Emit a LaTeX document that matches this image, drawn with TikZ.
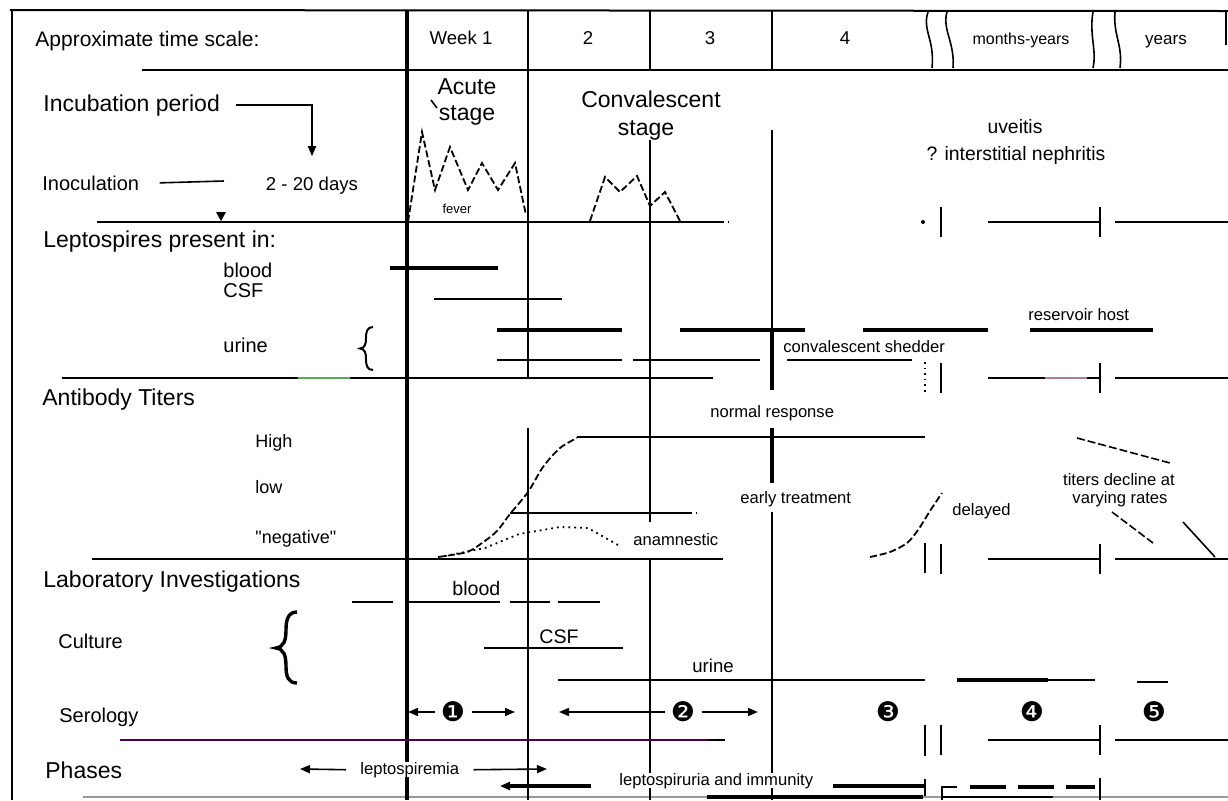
\documentclass[tikz,border=0pt]{standalone}
\usepackage{fontspec}
\setmainfont{Liberation Sans}
\newfontfamily\plainfont[Ligatures=TeXOff]{Liberation Sans}
\newfontfamily\dingfont{DejaVu Sans}
\usetikzlibrary{arrows.meta}
\newcommand\myfs[1]{\fontsize{#1}{#1}\selectfont}
\tikzset{
  fr/.style={line width=0.8pt},
  md/.style={line width=1.2pt},
  hv/.style={line width=1.8pt},
  lab/.style={inner sep=0pt, anchor=base west},
  labc/.style={inner sep=0pt, anchor=base},
  big/.style={font=\myfs{11.5}},
  med/.style={font=\myfs{10}},
  sml/.style={font=\myfs{8.3}},
  num/.style={font=\dingfont\myfs{13.5}, inner sep=0pt},
  arr/.style={-{Triangle[length=5pt,width=4pt]}},
  curvedash/.style={line width=0.9pt, dash pattern=on 3.5pt off 1.5pt},
}
\begin{document}
\begin{tikzpicture}[x=0.5pt,y=-0.5pt]
\useasboundingbox (0,0) rectangle (1228,800);
\fill[white] (0,0) rectangle (1228,800);

% ---------- frame ----------
\draw[line width=1.4pt] (12,10) -- (12,800);
\draw[line width=1pt] (10,10) -- (1228,11);
\draw[fr] (1226,10) -- (1226,45);
\draw[fr] (142,70) -- (1228,70);
\draw[line width=0.8pt, black!40] (83,797) -- (1228,797);
\draw[hv] (707,797) -- (923,797);
\draw[md] (942,797) -- (1053,797);

% ---------- vertical grid ----------
\draw[hv] (407,10) -- (407,800);
\draw[fr] (528,10) -- (528,378) (528,428) -- (528,800);
\draw[fr] (650,10) -- (650,70) (650,140) -- (650,522) (650,559) -- (650,800);
\draw[fr] (772,10) -- (772,70) (772,130) -- (772,328);
\draw[hv] (772,328) -- (772,390) (772,428) -- (772,483);
\draw[md] (772,512) -- (772,800);

% header breaks
\draw[fr] (928,12) .. controls (922,30) and (935,40) .. (932,68);
\draw[fr] (947,12) .. controls (942,30) and (955,42) .. (953,68);
\draw[fr] (1093,12) .. controls (1089,35) and (1097,50) .. (1093,68);
\draw[fr] (1115,12) .. controls (1113,35) and (1123,45) .. (1120,68);

% ---------- horizontal separators ----------
\draw[fr] (97,222) -- (722,222);
\draw[fr, dotted] (722,222) -- (733,222);
\draw[fr] (62,378) -- (713,378);
\draw[line width=1.2pt, green!35!gray] (298,378) -- (350,378);
\draw[fr] (92,559) -- (723,559);
\draw[fr] (120,740) -- (725,740);
\draw[line width=1pt, violet!60!black] (120,740) -- (708,740);

% right-hand break marks on each separator
\foreach \yy in {222,378,559,740}{
  \draw[md] (941,\yy-15) -- (941,\yy+15);
  \draw[fr] (1100,\yy-15) -- (1100,\yy+15);
  \draw[fr] (988,\yy) -- (1100,\yy);
  \draw[fr] (1115,\yy) -- (1228,\yy);
}
\fill (923,222) circle (1pt);
\draw[fr, dotted] (925,362) -- (925,392);
\draw[md] (925,543) -- (925,573);
\draw[md] (925,725) -- (925,756);
\draw[line width=1pt, magenta!30!gray] (1045,378) -- (1087,378);

% ---------- header labels ----------
\node[lab,font=\myfs{10.5}] (ats) at (35,46) {Approximate time scale:};
\node[labc,font=\myfs{9.3}] (wk1) at (461,44) {Week 1};
\node[labc,font=\myfs{9.3}] (wk2) at (588,44) {2};
\node[labc,font=\myfs{9.3}] (wk3) at (710,44) {3};
\node[labc,font=\myfs{9.3}] (wk4) at (845,44) {4};
\node[labc,font=\myfs{8}] (mo) at (1021,44) {months-years};
\node[labc,font=\myfs{8.5}] (yr) at (1166,44) {years};

% ---------- incubation row ----------
\node[lab,big] (incp) at (43,111) {Incubation period};
\node[lab,med] (inoc) at (42,190) {Inoculation};
\node[labc,font=\myfs{9.3}] (days) at (312,190) {2 - 20 days};
\draw[fr,arr] ([xshift=8pt]incp.east) -| ([yshift=10pt]days.north);
\coordinate (inocend) at (224,181);
\draw[fr] ([xshift=10pt]inoc.east) -- (inocend);
\fill (216,212) -- (226,212) -- (221,221) -- cycle;

\node[labc,big] (acute) at (467,94) {Acute};
\node[labc,big] (acst) at (467,120) {stage};
\draw[fr] (431,100) -- (437,108);
\node[labc,big] (conv) at (651,107) {Convalescent};
\node[labc,big] (cvst) at (646,135) {stage};
\node[labc,font=\myfs{6.5}] (fev) at (457,213) {fever};
\draw[curvedash] (408,222) -- (422,132) -- (435,190) -- (450,147) -- (468,190) -- (482,163) -- (498,190) -- (515,163) -- (526,215);
\draw[curvedash] (590,221) -- (605,177) -- (620,192) -- (637,176) -- (650,206) -- (665,192) -- (680,221);

\node[labc,font=\myfs{9.7}] (uv) at (1015,133) {uveitis};
\node[labc,font=\myfs{9.7}] (nep) at (1016,160) {? interstitial nephritis};

% ---------- leptospires present in ----------
\node[lab,big] (lpi) at (43,247) {Leptospires present in:};
\node[lab,med] (bl) at (223,277) {blood};
\node[lab,med] (csf) at (223,297) {CSF};
\node[lab,med] (ur) at (223,352) {urine};
\draw[line width=1pt] (373,327) .. controls (367,327) and (366,332) .. (366,338) .. controls (366,344) and (365,348) .. (360,348.5) .. controls (365,349) and (366,353) .. (366,359) .. controls (366,365) and (367,370) .. (373,370);

\draw[hv] (390,268) -- (498,268);
\draw[fr] (434,299) -- (562,299);
\draw[hv] (497,330) -- (622,330) (680,330) -- (805,330) (863,330) -- (988,330) (1030,330) -- (1153,330);
\draw[md] (497,360) -- (622,360) (633,360) -- (760,360) (787,360) -- (912,360);
\node[lab,sml] (shed) at (783,352) {convalescent shedder};
\node[lab,sml] (res) at (1028,320) {reservoir host};

% ---------- antibody titers ----------
\node[lab,big] (abt) at (42,405) {Antibody Titers};
\node[lab,font=\myfs{9}] (hi) at (255,447) {High};
\node[lab,font=\myfs{9}] (lo) at (255,493) {low};
\node[lab,font=\plainfont\myfs{9}] (neg) at (255,543) {"negative"};

\draw[curvedash] plot[smooth] coordinates {(438,557) (467,552) (482,543) (497,531) (510,514) (528,492) (543,467) (560,448) (577,438)};
\draw[fr] (577,437) -- (925,437);
\node[lab,sml] (nr) at (710,417) {normal response};
\draw[fr] (510,513) -- (690,513);
\draw[fr, dotted] (690,513) -- (699,513);
\node[lab,sml] (et) at (740,503) {early treatment};
\draw[line width=0.9pt, dotted] (445,556) -- (485,548) -- (519,534) -- (560,527) -- (588,528) -- (618,545);
\node[lab,sml] (ana) at (633,545) {anamnestic};
\draw[curvedash] plot[smooth] coordinates {(870,557) (890,552) (907,543) (918,530) (930,511) (942,493)};
\node[lab,sml] (del) at (952,515) {delayed};
\node[labc,sml] (td1) at (1119,485) {titers decline at};
\node[labc,sml] (td2) at (1120,503) {varying rates};
\draw[fr, dash pattern=on 4pt off 1.5pt] (1077,438) -- (1170,463);
\draw[fr, dash pattern=on 4pt off 1.5pt] (1112,512) -- (1153,543);
\draw[fr] (1183,522) -- (1215,557);

% ---------- laboratory investigations ----------
\node[lab,big] (lab) at (43,587) {Laboratory Investigations};
\node[lab,med] (cul) at (58,648) {Culture};
\node[lab,med] (ser) at (59,722) {Serology};
\draw[line width=1.7pt] (297,612) .. controls (288,612) and (286,620) .. (286,630) .. controls (286,640) and (284,647) .. (276,648) .. controls (284,649) and (286,656) .. (286,666) .. controls (286,676) and (288,683) .. (297,683);

\node[lab,font=\myfs{9.8}] (lbl) at (452,595) {blood};
\draw[fr] (352,602) -- (393,602) (408,602) -- (500,602) (510,602) -- (550,602) (558,602) -- (600,602);
\node[lab,font=\myfs{9.8}] (lcsf) at (539,643) {CSF};
\draw[fr] (484,648) -- (623,648);
\node[lab,font=\myfs{9.3}] (lur) at (692,672) {urine};
\draw[fr] (558,680) -- (925,680);
\draw[hv] (957,680) -- (1048,680);
\draw[fr] (1048,680) -- (1095,680) (1137,682) -- (1168,682);

\node[num] (p1) at (453,712) {❶};
\node[num] (p2) at (683,712) {❷};
\node[num] (p3) at (888,712) {❸};
\node[num] (p4) at (1032,712) {❹};
\node[num] (p5) at (1154,712) {❺};
\coordinate (s1l) at (408,712);
\coordinate (s1r) at (515,712);
\coordinate (s2l) at (559,712);
\coordinate (s2r) at (758,712);
\draw[fr,arr] ([xshift=-3pt]p1.west) -- (s1l);
\draw[fr,arr] ([xshift=3pt]p1.east) -- (s1r);
\draw[fr,arr] ([xshift=-3pt]p2.west) -- (s2l);
\draw[fr,arr] ([xshift=3pt]p2.east) -- (s2r);

% ---------- phases ----------
\node[lab,big] (ph) at (45,778) {Phases};
\node[lab,sml,fill=white,inner xsep=1pt] (lsp) at (358,774) {leptospiremia};
\coordinate (lspl) at (300,769);
\coordinate (lspr) at (547,769);
\draw[fr,arr] ([xshift=-6pt]lsp.west) -- (lspl);
\draw[fr,arr] ([xshift=6pt]lsp.east) -- (lspr);
\node[lab,sml,fill=white,inner xsep=2pt] (lsu) at (615,785) {leptospiruria and immunity};
\coordinate (lsul) at (500,786);
\draw[hv,arr] (591,786) -- (lsul);
\draw[hv] (833,786) -- (925,786);
\draw[md] (925,779) -- (925,796);
\draw[md] (942,800) -- (942,787) -- (957,787);
\draw[hv, dash pattern=on 18pt off 6pt] (970,787) -- (1095,787);
\draw[md] (1100,778) -- (1100,800);
\end{tikzpicture}
\end{document}
